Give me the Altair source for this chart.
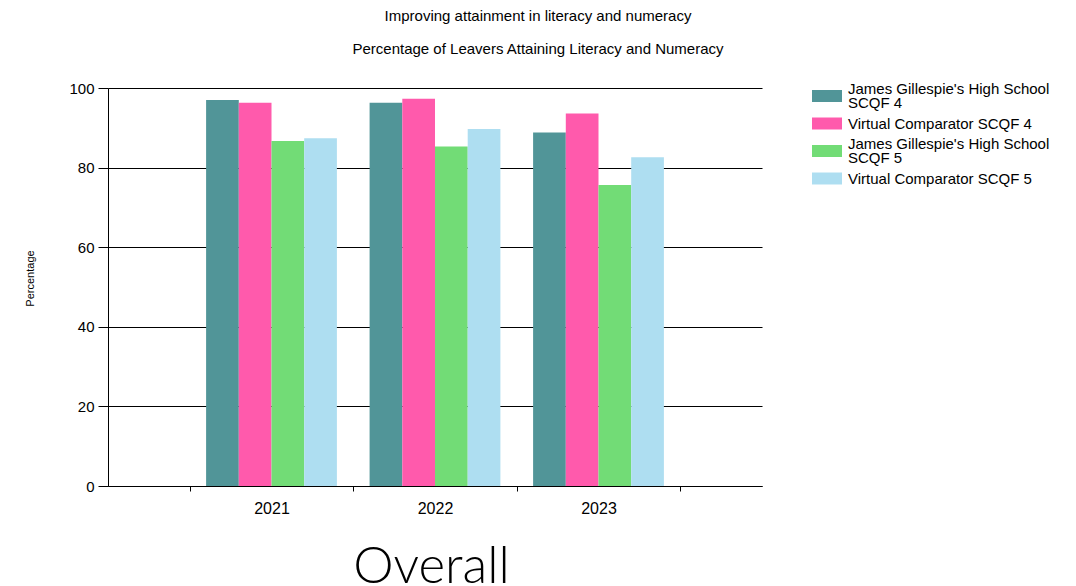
import altair as alt
import pandas as pd

years = ["2021", "2022", "2023"]
series = [
    "James Gillespie's High School SCQF 4",
    "Virtual Comparator SCQF 4",
    "James Gillespie's High School SCQF 5",
    "Virtual Comparator SCQF 5",
]
jghs_scqf4 = [97.0, 96.3, 88.8]
vc_scqf4 = [96.3, 97.3, 93.6]
jghs_scqf5 = [86.7, 85.3, 75.6]
vc_scqf5 = [87.4, 89.7, 82.6]
colors = ["#519598", "#FF5AAC", "#72DC76", "#AEDEF1"]
y_ticks = [0, 20, 40, 60, 80, 100]

rows = []
for s, vals in zip(series, [jghs_scqf4, vc_scqf4, jghs_scqf5, vc_scqf5]):
    for yr, v in zip(years, vals):
        rows.append({"year": yr, "series": s, "value": v})
df = pd.DataFrame(rows)

# legend tables (entry index; long names wrap after "School")
ENTRY_PITCH = 27.5      # px between legend entries
LINE_PITCH = 14.5       # px between wrapped label lines
legend_rows = [{"series": s, "entry": i} for i, s in enumerate(series)]
legend_df = pd.DataFrame(legend_rows)
line_rows = []
for i, s in enumerate(series):
    if "School " in s:
        head, tail = s.split("School ", 1)
        lines = [head + "School", tail]
    else:
        lines = [s]
    n = len(lines)
    for j, t in enumerate(lines):
        line_rows.append({"entry": i + (j - (n - 1) / 2) * LINE_PITCH / ENTRY_PITCH, "line": t})
lines_df = pd.DataFrame(line_rows)

FONT = "Liberation Sans"

legend_scale = alt.Scale(domain=[0, 3], range=[8, 8 + 3 * ENTRY_PITCH])

bars = alt.Chart(df).mark_bar().encode(
    x=alt.X(
        "year:N", sort=years,
        scale=alt.Scale(paddingInner=0, paddingOuter=0.5),
        axis=alt.Axis(
            title="Overall", labelAngle=0, tickBand="extent", grid=False,
            domainColor="black", tickColor="black", tickSize=5,
            labelFont=FONT, labelFontSize=16, labelColor="black", labelPadding=9,
            titleFont="Lato", titleFontSize=51, titleFontWeight=300, titleColor="black",
            titleX=323, titleY=96, titleBaseline="alphabetic", titleAlign="center",
        ),
    ),
    xOffset=alt.XOffset("series:N", sort=series,
                        scale=alt.Scale(paddingInner=0, paddingOuter=0.5)),
    y=alt.Y(
        "value:Q",
        scale=alt.Scale(domain=[0, 100], nice=False),
        axis=alt.Axis(
            title="Percentage", values=y_ticks, grid=True, gridColor="black",
            gridWidth=1, gridOpacity=1,
            domainColor="black", tickColor="black", tickSize=10, labelPadding=4,
            labelFont=FONT, labelFontSize=15, labelColor="black",
            titleFont=FONT, titleFontSize=11, titleFontWeight="normal", titleColor="black",
            titleX=-75, titleY=190, titleBaseline="alphabetic", titleAlign="center",
        ),
    ),
    color=alt.Color("series:N", sort=series,
                    scale=alt.Scale(domain=series, range=colors), legend=None),
)

swatches = alt.Chart(legend_df).mark_point(
    shape="M-1,-0.4H1V0.4H-1Z", size=900, filled=True, opacity=1, strokeWidth=0,
).encode(
    x=alt.value(719),
    y=alt.Y("entry:Q", scale=legend_scale, axis=None),
    color=alt.Color("series:N", sort=series,
                    scale=alt.Scale(domain=series, range=colors), legend=None),
)

labels = alt.Chart(lines_df).mark_text(
    align="left", baseline="middle", font=FONT, fontSize=15, color="black",
).encode(
    x=alt.value(740),
    y=alt.Y("entry:Q", scale=legend_scale, axis=None),
    text="line:N",
)

chart = alt.layer(bars, swatches, labels).resolve_scale(
    y="independent"
).properties(
    width=654,
    height=398,
    title=alt.TitleParams(
        text="Improving attainment in literacy and numeracy",
        subtitle="Percentage of Leavers Attaining Literacy and Numeracy",
        font=FONT, fontSize=15, fontWeight="normal", color="black",
        subtitleFont=FONT, subtitleFontSize=15, subtitleColor="black",
        anchor="middle", frame="group", dx=103, subtitlePadding=18, offset=24,
    ),
    padding={"left": 100, "top": 80, "right": 294, "bottom": 98},
    autosize="none",
).configure(
    view=alt.ViewConfig(stroke="transparent"),
)

chart.save("out.html", embed_options={"renderer": "svg", "actions": False})
